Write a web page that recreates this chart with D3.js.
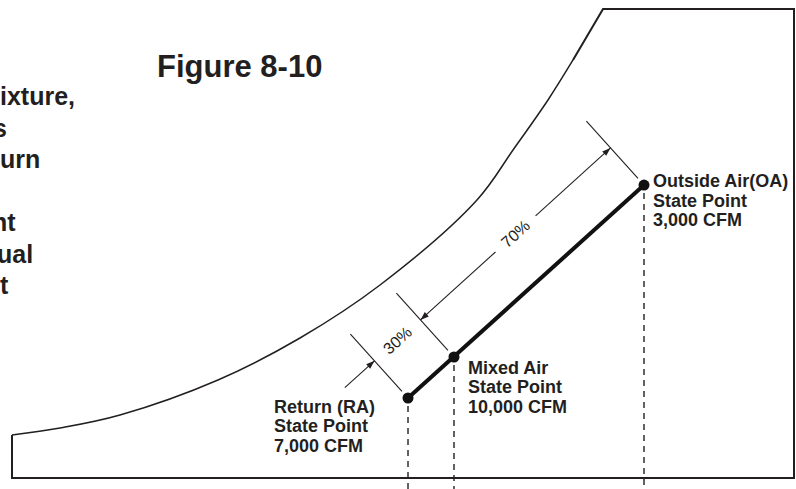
<!DOCTYPE html>
<html><head><meta charset="utf-8">
<script src="https://cdn.jsdelivr.net/npm/d3@7"></script>
<style>html,body{margin:0;padding:0;background:#fff;} svg{display:block;}</style>
</head><body>
<script>
// ---- data (chart units: 0..100 on both axes) ----
const curveX = [0, 6.14, 13.81, 26.34, 36.83, 47.06, 59.46, 64.07, 68.54, 71.74];
const curveY = [9.17, 10.66, 13.43, 20.90, 29.85, 41.15, 59.28, 69.94, 80.60, 89.13];
const frameX = [71.74, 75.58, 100, 100, 0, 0];
const frameY = [89.13, 100, 100, 0, 0, 9.17];
const pointNames = ["Return (RA)", "Mixed Air", "Outside Air(OA)"];
const pointSub = ["State Point", "State Point", "State Point"];
const pointCFM = ["7,000 CFM", "10,000 CFM", "3,000 CFM"];
const pointX = [50.64, 56.52, 80.82];
const pointY = [17.06, 25.80, 62.47];
const spanLabels = ["30%", "70%"];
const titleText = "Figure 8-10";
const sideText = ["ixture,", "s", "urn", "", "nt", "ual", "t"];

const W = 796, H = 489;
const ink = "#231f20";
const svg = d3.select("body").append("svg").attr("width", W).attr("height", H)
  .style("font-family", "'Liberation Sans', Arial, Helvetica, sans-serif");

const x = d3.scaleLinear().domain([0, 100]).range([12, 794]);
const y = d3.scaleLinear().domain([0, 100]).range([478, 9]);

const defs = svg.append("defs");
defs.append("marker").attr("id", "ah").attr("viewBox", "-9 -4 10 8")
  .attr("refX", 0).attr("refY", 0).attr("markerWidth", 10).attr("markerHeight", 8)
  .attr("markerUnits", "userSpaceOnUse").attr("orient", "auto-start-reverse")
  .append("path").attr("d", "M0,0 L-8.5,-3 L-8.5,3 Z").attr("fill", ink);

// outline
const curvePts = curveX.map((v, i) => [x(v), y(curveY[i])]);
svg.append("path").attr("d", d3.line().curve(d3.curveCatmullRom.alpha(0.5))(curvePts))
  .attr("fill", "none").attr("stroke", ink).attr("stroke-width", 1.5);
const framePts = frameX.map((v, i) => [x(v), y(frameY[i])]);
svg.append("path").attr("d", d3.line()(framePts))
  .attr("fill", "none").attr("stroke", ink).attr("stroke-width", 2).attr("stroke-linejoin", "miter");

// title & side text
svg.append("text").attr("x", 157).attr("y", 77).text(titleText)
  .attr("font-size", 31).attr("font-weight", "bold").attr("fill", ink);
const sideOffsets = [0, -7, 0, 0, -8, -3, 0];
svg.selectAll("text.side").data(sideText).join("text").attr("class", "side")
  .attr("x", (d, i) => sideOffsets[i]).attr("y", (d, i) => 105 + i * 31.5)
  .text(d => d).attr("font-size", 25).attr("font-weight", "bold").attr("fill", ink);

// state points
const P = pointX.map((v, i) => ({ px: x(v), py: y(pointY[i]) }));

// dashed verticals
svg.selectAll("line.drop").data(P).join("line").attr("class", "drop")
  .attr("x1", d => d.px).attr("x2", d => d.px)
  .attr("y1", d => d.py + 8).attr("y2", H)
  .attr("stroke", ink).attr("stroke-width", 1.4).attr("stroke-dasharray", "6,5");

// mixing line
svg.append("line").attr("x1", P[0].px).attr("y1", P[0].py).attr("x2", P[2].px).attr("y2", P[2].py)
  .attr("stroke", "#111").attr("stroke-width", 4);
svg.selectAll("circle.pt").data(P).join("circle").attr("class", "pt")
  .attr("cx", d => d.px).attr("cy", d => d.py).attr("r", 5.5).attr("fill", "#111");

// dimension geometry
const dx = P[2].px - P[0].px, dy = P[2].py - P[0].py, L = Math.hypot(dx, dy);
const u = [dx / L, dy / L];
const n = [u[1], -u[0]]; // up-left perpendicular
const at = (p, t, s = 0) => [p.px + n[0] * t + u[0] * s, p.py + n[1] * t + u[1] * s];
const ang = Math.atan2(u[1], u[0]) * 180 / Math.PI;

// extension lines
P.forEach(p => {
  const a = at(p, 9), b = at(p, 86);
  svg.append("line").attr("x1", a[0]).attr("y1", a[1]).attr("x2", b[0]).attr("y2", b[1])
    .attr("stroke", ink).attr("stroke-width", 1.1);
});

const T = 50;
// 70% arrows (mixed -> OA)
const A = at(P[1], T), B = at(P[2], T);
const mid70 = [(A[0] + B[0]) / 2, (A[1] + B[1]) / 2];
const gap = 27;
svg.append("line").attr("x1", mid70[0] - u[0] * gap).attr("y1", mid70[1] - u[1] * gap)
  .attr("x2", A[0]).attr("y2", A[1]).attr("stroke", ink).attr("stroke-width", 1.1).attr("marker-end", "url(#ah)");
svg.append("line").attr("x1", mid70[0] + u[0] * gap).attr("y1", mid70[1] + u[1] * gap)
  .attr("x2", B[0]).attr("y2", B[1]).attr("stroke", ink).attr("stroke-width", 1.1).attr("marker-end", "url(#ah)");
svg.append("text").attr("transform", `translate(${mid70[0]},${mid70[1]}) rotate(${ang})`)
  .attr("text-anchor", "middle").attr("dy", "0.35em").attr("font-size", 16).attr("fill", ink).text(spanLabels[1]);

// 30%
const C = at(P[0], T);
const mid30 = [(C[0] + A[0]) / 2, (C[1] + A[1]) / 2];
svg.append("line").attr("x1", C[0] - u[0] * 40).attr("y1", C[1] - u[1] * 40)
  .attr("x2", C[0]).attr("y2", C[1]).attr("stroke", ink).attr("stroke-width", 1.1).attr("marker-end", "url(#ah)");
svg.append("text").attr("transform", `translate(${mid30[0]},${mid30[1]}) rotate(${ang})`)
  .attr("text-anchor", "middle").attr("dy", "0.35em").attr("font-size", 16).attr("fill", ink).text(spanLabels[0]);

// point labels
const labelPos = [[-134, 15], [14, 17], [9, 2]];
P.forEach((p, i) => {
  const t = svg.append("text").attr("x", p.px + labelPos[i][0]).attr("y", p.py + labelPos[i][1])
    .attr("font-size", 18).attr("font-weight", "bold").attr("fill", ink);
  [pointNames[i], pointSub[i], pointCFM[i]].forEach((s, k) =>
    t.append("tspan").attr("x", p.px + labelPos[i][0]).attr("dy", k ? 19.5 : 0).text(s));
});
</script>
</body></html>
